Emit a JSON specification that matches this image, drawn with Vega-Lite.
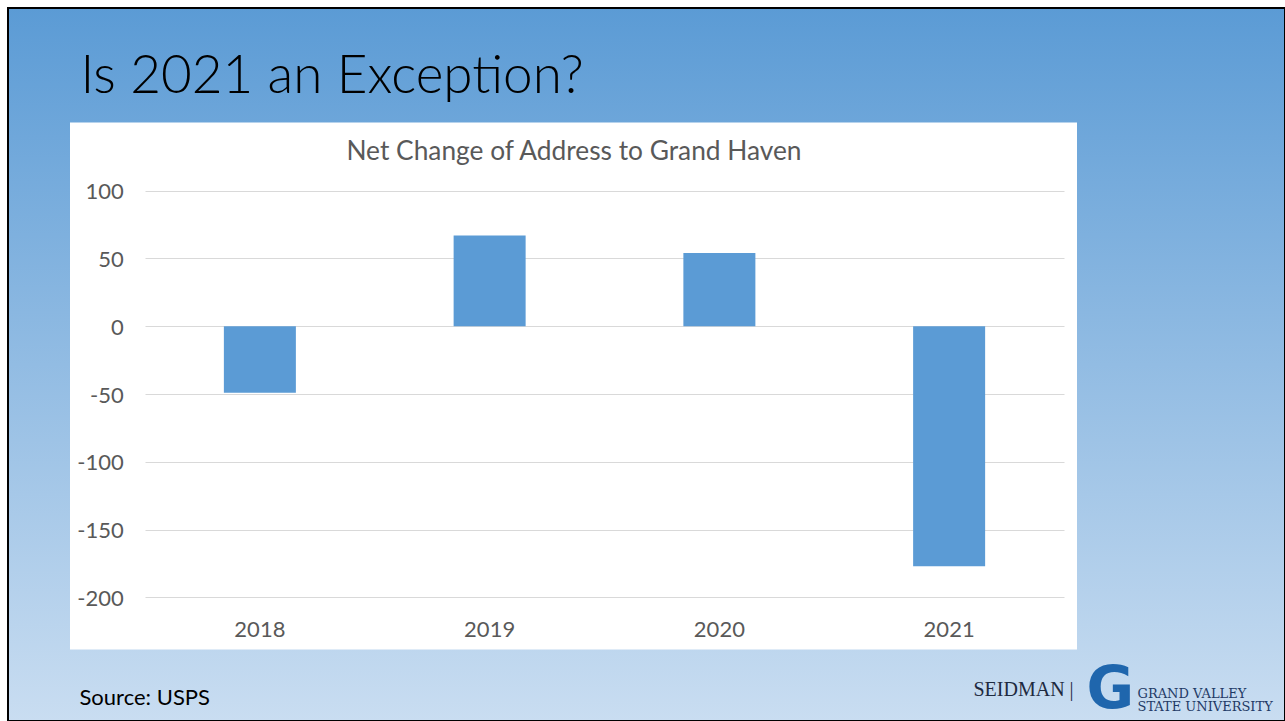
{
  "$schema": "https://vega.github.io/schema/vega-lite/v6.json",
  "width": 1277,
  "height": 713,
  "autosize": {"type": "none"},
  "padding": {"left": 8, "top": 8, "right": 0, "bottom": 0},
  "background": "#ffffff",
  "view": {
    "fill": {"gradient": "linear", "x1": 0, "y1": 0, "x2": 0, "y2": 1, "stops": [{"offset": 0, "color": "#5b9bd5"}, {"offset": 1, "color": "#c9ddf1"}]},
    "stroke": "#000000",
    "strokeWidth": 2
  },
  "title": {
    "text": "Is 2021 an Exception?",
    "anchor": "start",
    "frame": "group",
    "dx": 72.4,
    "offset": -96,
    "baseline": "top",
    "font": "Lato",
    "fontSize": 53,
    "fontWeight": 300,
    "color": "#000000"
  },
  "data": {
    "values": [
      {"year": "2018", "value": -49},
      {"year": "2019", "value": 67},
      {"year": "2020", "value": 54},
      {"year": "2021", "value": -177}
    ]
  },
  "layer": [
    {
      "mark": {"type": "point", "opacity": 0},
      "encoding": {
        "x": {
          "field": "value",
          "type": "quantitative",
          "scale": {"domain": [-200, 120], "range": [62, 1136.13], "nice": false, "zero": false},
          "axis": {
            "orient": "top",
            "offset": 0,
            "values": [-50, 109.8],
            "grid": true,
            "gridColor": "#ffffff",
            "gridWidth": {"condition": {"test": "datum.value < 100", "value": 1007}, "value": 0},
            "gridOpacity": {"condition": {"test": "datum.value < 100", "value": 1}, "value": 0},
            "gridCap": "butt",
            "labels": true,
            "labelExpr": "datum.value > 100 ? 'G' : ''",
            "labelFont": "DejaVu Sans",
            "labelFontWeight": "bold",
            "labelFontSize": 58,
            "labelColor": "#1f66ad",
            "labelBaseline": "alphabetic",
            "labelAlign": "center",
            "labelAngle": 0,
            "labelPadding": -699,
            "labelOverlap": false,
            "labelBound": false,
            "labelFlush": false,
            "ticks": false,
            "tickSize": 0,
            "domain": false,
            "title": "Net Change of Address to Grand Haven",
            "titleX": 565.5,
            "titleY": 151.3,
            "titleAlign": "center",
            "titleBaseline": "alphabetic",
            "titleFont": "Lato",
            "titleFontSize": 26.3,
            "titleFontWeight": "normal",
            "titleColor": "#595959",
            "titlePadding": 0
          }
        },
        "y": {
          "field": "value",
          "type": "quantitative",
          "scale": {"domain": [-200, 100], "range": [641, 114], "nice": false, "zero": false},
          "axis": {
            "orient": "right",
            "grid": false,
            "labels": false,
            "ticks": false,
            "tickSize": 0,
            "domain": false,
            "title": ["GRAND VALLEY", "STATE UNIVERSITY"],
            "titleAngle": 0,
            "titleX": -148,
            "titleY": 689,
            "titleAlign": "left",
            "titleBaseline": "alphabetic",
            "titleFont": "DejaVu Serif",
            "titleFontSize": 13,
            "titleLineHeight": 13,
            "titleFontWeight": "normal",
            "titleColor": "#1f3a66"
          }
        }
      }
    },
    {
      "mark": {"type": "bar", "color": "#5b9bd5"},
      "encoding": {
        "x": {
          "field": "year",
          "type": "ordinal",
          "scale": {"range": [137, 1056], "paddingInner": 0.6866, "paddingOuter": 0.3433},
          "axis": {
            "orient": "bottom",
            "offset": -123.7,
            "domain": false,
            "ticks": false,
            "tickSize": 0,
            "grid": false,
            "labelAngle": 0,
            "labelFont": "Lato",
            "labelFontSize": 22,
            "labelColor": "#595959",
            "labelBaseline": "alphabetic",
            "labelPadding": 38.7,
            "title": "SEIDMAN |",
            "titleX": 965,
            "titleY": 97.7,
            "titleAlign": "left",
            "titleBaseline": "alphabetic",
            "titleFont": "Liberation Serif",
            "titleFontSize": 20,
            "titleFontWeight": "normal",
            "titleColor": "#1e2a40"
          }
        },
        "y": {
          "field": "value",
          "type": "quantitative",
          "scale": {"domain": [-200, 100], "range": [589.3, 182.7], "nice": false},
          "axis": {
            "orient": "left",
            "offset": -115.3,
            "values": [-200, -150, -100, -50, 0, 50, 100],
            "labelExpr": "datum.value + ''",
            "domain": false,
            "ticks": false,
            "tickSize": 0,
            "grid": true,
            "gridColor": "#d9d9d9",
            "gridWidth": 1,
            "labelFont": "Lato",
            "labelFontSize": 22,
            "labelColor": "#595959",
            "labelPadding": 0,
            "labelOffset": 1,
            "title": "Source: USPS",
            "titleAngle": 0,
            "titleX": -44.3,
            "titleY": 696.5,
            "titleAlign": "left",
            "titleBaseline": "alphabetic",
            "titleFont": "Lato",
            "titleFontSize": 22,
            "titleFontWeight": "normal",
            "titleColor": "#000000"
          }
        }
      }
    }
  ],
  "resolve": {"scale": {"x": "independent", "y": "independent"}}
}
